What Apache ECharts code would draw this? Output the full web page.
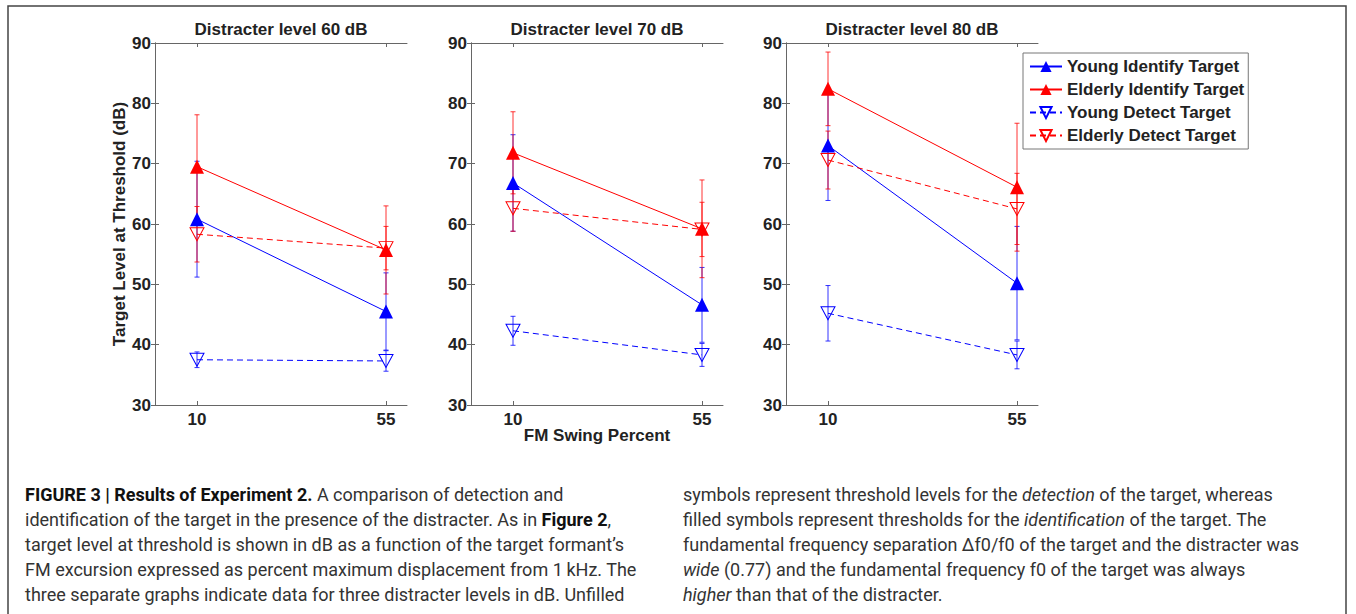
<!DOCTYPE html>
<html>
<head>
<meta charset="utf-8">
<script src="https://cdn.jsdelivr.net/npm/echarts@6/dist/echarts.min.js"></script>
<style>
html,body{margin:0;padding:0;background:#fff;}
#chart{width:1356px;height:614px;}
</style>
</head>
<body>
<div id="chart"></div>
<script>
// ---------- data ----------
const swingPercent = [10, 55];
const panelTitles = ['Distracter level 60 dB', 'Distracter level 70 dB', 'Distracter level 80 dB'];
const seriesNames = ['Young Identify Target', 'Elderly Identify Target', 'Young Detect Target', 'Elderly Detect Target'];
const yTicks = [30, 40, 50, 60, 70, 80, 90];

// values per panel [at 10%, at 55%]
const youngIdentify    = [[60.8, 45.5], [66.8, 46.6], [73.0, 50.2]];
const youngIdentifyErr = [[9.6, 6.4],   [8.0, 6.2],   [9.1, 9.4]];
const elderlyIdentify    = [[69.5, 55.7], [71.8, 59.2], [82.4, 66.1]];
const elderlyIdentifyErr = [[8.6, 7.3],   [6.8, 8.1],   [6.1, 10.6]];
const youngDetect    = [[37.5, 37.3], [42.3, 38.3], [45.2, 38.3]];
const youngDetectErr = [[1.3, 1.7],   [2.4, 1.9],   [4.6, 2.3]];
const elderlyDetect    = [[58.3, 56.0], [62.6, 59.1], [70.6, 62.5]];
const elderlyDetectErr = [[4.6, 3.6],   [3.8, 4.5],   [4.8, 5.9]];

const captionLeft = [
  '{b|FIGURE 3 | Results of Experiment 2.} A comparison of detection and',
  'identification of the target in the presence of the distracter. As in {b|Figure 2},',
  'target level at threshold is shown in dB as a function of the target formant\u2019s',
  'FM excursion expressed as percent maximum displacement from 1\u2009kHz. The',
  'three separate graphs indicate data for three distracter levels in dB. Unfilled'
];
const captionRight = [
  'symbols represent threshold levels for the {i|detection} of the target, whereas',
  'filled symbols represent thresholds for the {i|identification} of the target. The',
  'fundamental frequency separation \u0394f0/f0 of the target and the distracter was',
  '{i|wide} (0.77) and the fundamental frequency f0 of the target was always',
  '{i|higher} than that of the distracter.'
];

// ---------- styling / layout ----------
const FONT = 'Arial, Liberation Sans, Helvetica, sans-serif';
const CAPFONT = 'Roboto, sans-serif';
const BLUE = '#0000ff', RED = '#ff0000';
const gridLefts = [155, 471, 786];
const GRID_W = 252, GRID_TOP = 43, GRID_H = 362;

const seriesDefs = [
  {name: seriesNames[0], vals: youngIdentify, err: youngIdentifyErr, color: BLUE, filled: true},
  {name: seriesNames[1], vals: elderlyIdentify, err: elderlyIdentifyErr, color: RED, filled: true},
  {name: seriesNames[2], vals: youngDetect, err: youngDetectErr, color: BLUE, filled: false},
  {name: seriesNames[3], vals: elderlyDetect, err: elderlyDetectErr, color: RED, filled: false}
];

const grids = [], xAxes = [], yAxes = [], series = [], graphics = [];
const axisLineStyle = {color: '#666', width: 1};

gridLefts.forEach((left, p) => {
  grids.push({left: left, top: GRID_TOP, width: GRID_W, height: GRID_H, containLabel: false});
  xAxes.push({
    type: 'value', gridIndex: p, position: 'bottom', min: 0, max: 60,
    axisLine: {show: true, onZero: false, lineStyle: axisLineStyle},
    axisTick: {show: true, inside: true, length: 4, lineStyle: axisLineStyle, customValues: swingPercent},
    axisLabel: {show: true, margin: 6, fontFamily: FONT, fontWeight: 'bold', fontSize: 17, color: '#222', customValues: swingPercent},
    splitLine: {show: false}
  }, {
    type: 'value', gridIndex: p, position: 'top', min: 0, max: 60,
    axisLine: {show: true, onZero: false, lineStyle: axisLineStyle},
    axisTick: {show: true, inside: true, length: 4, lineStyle: axisLineStyle, customValues: swingPercent},
    axisLabel: {show: false},
    splitLine: {show: false}
  });
  const yl = {
    type: 'value', gridIndex: p, position: 'left', min: 30, max: 90, interval: 10,
    axisLine: {show: true, lineStyle: axisLineStyle},
    axisTick: {show: true, inside: true, length: 4, lineStyle: axisLineStyle, customValues: yTicks},
    axisLabel: {show: true, margin: 4, fontFamily: FONT, fontWeight: 'bold', fontSize: 17, color: '#222', customValues: yTicks},
    splitLine: {show: false}
  };
  if (p === 0) {
    yl.name = 'Target Level at Threshold (dB)';
    yl.nameLocation = 'middle';
    yl.nameGap = 26;
    yl.nameTextStyle = {fontFamily: FONT, fontWeight: 'bold', fontSize: 17, color: '#222'};
  }
  yAxes.push(yl, {
    type: 'value', gridIndex: p, position: 'right', min: 30, max: 90, interval: 10,
    axisLine: {show: true, lineStyle: axisLineStyle},
    axisTick: {show: true, inside: true, length: 4, lineStyle: axisLineStyle, customValues: yTicks},
    axisLabel: {show: false},
    splitLine: {show: false}
  });

  // error bars
  seriesDefs.forEach(def => {
    series.push({
      type: 'custom',
      name: def.name + ' error',
      xAxisIndex: 2 * p, yAxisIndex: 2 * p,
      z: 1, silent: true,
      data: swingPercent.map((x, i) => [x, def.vals[p][i], def.err[p][i]]),
      renderItem: function (params, api) {
        const x = api.value(0), y = api.value(1), e = api.value(2);
        const top = api.coord([x, y + e]);
        const bot = api.coord([x, y - e]);
        const w = 2.5;
        const st = {stroke: def.color, lineWidth: 0.8};
        return {
          type: 'group',
          children: [
            {type: 'line', shape: {x1: top[0], y1: top[1], x2: bot[0], y2: bot[1]}, style: st},
            {type: 'line', shape: {x1: top[0] - w, y1: top[1], x2: top[0] + w, y2: top[1]}, style: st},
            {type: 'line', shape: {x1: bot[0] - w, y1: bot[1], x2: bot[0] + w, y2: bot[1]}, style: st}
          ]
        };
      }
    });
  });
  // lines with markers
  seriesDefs.forEach(def => {
    series.push({
      type: 'line',
      name: def.name,
      xAxisIndex: 2 * p, yAxisIndex: 2 * p,
      z: 3,
      data: swingPercent.map((x, i) => [x, def.vals[p][i]]),
      symbol: 'triangle',
      symbolRotate: def.filled ? 0 : 180,
      symbolSize: def.filled ? 14 : [14, 13],
      showSymbol: true,
      lineStyle: {color: def.color, width: 1, type: def.filled ? 'solid' : [6, 4]},
      itemStyle: def.filled
        ? {color: def.color, borderWidth: 0}
        : {color: 'rgba(255,255,255,0)', borderColor: def.color, borderWidth: 1},
      emphasis: {disabled: true}
    });
  });

  graphics.push({
    type: 'text', x: left + GRID_W / 2, y: 29,
    style: {text: panelTitles[p], fontFamily: FONT, fontWeight: 'bold', fontSize: 17, fill: '#222', align: 'center', verticalAlign: 'middle'}
  });
});

// frame
graphics.push({
  type: 'rect', shape: {x: 8, y: 6, width: 1338, height: 640},
  style: {fill: 'none', stroke: '#444', lineWidth: 1.5}, z: -1
});
// x axis name
graphics.push({
  type: 'text', x: gridLefts[1] + GRID_W / 2, y: 435,
  style: {text: 'FM Swing Percent', fontFamily: FONT, fontWeight: 'bold', fontSize: 17, fill: '#222', align: 'center', verticalAlign: 'middle'}
});
// caption
const capRich = {
  b: {fontFamily: CAPFONT, fontWeight: 'bold', fontSize: 18, fill: '#111', lineHeight: 25},
  i: {fontFamily: CAPFONT, fontStyle: 'italic', fontSize: 18, fill: '#333', lineHeight: 25}
};
graphics.push({
  type: 'text', x: 25, y: 482,
  style: {text: captionLeft.join('\n'), fontFamily: CAPFONT, fontSize: 18, fill: '#333', lineHeight: 25, rich: capRich, align: 'left', verticalAlign: 'top'}
});
graphics.push({
  type: 'text', x: 683, y: 482,
  style: {text: captionRight.join('\n'), fontFamily: CAPFONT, fontSize: 18, fill: '#333', lineHeight: 25, rich: capRich, align: 'left', verticalAlign: 'top'}
});

const option = {
  animation: false,
  backgroundColor: '#fff',
  grid: grids,
  xAxis: xAxes,
  yAxis: yAxes,
  legend: {
    data: seriesNames,
    orient: 'vertical',
    left: 1023, top: 53,
    itemWidth: 32, itemHeight: 14, itemGap: 6,
    padding: [5, 4, 5, 6],
    backgroundColor: '#fff',
    borderColor: '#777', borderWidth: 1, borderRadius: 0,
    selectedMode: false,
    textStyle: {fontFamily: FONT, fontWeight: 'bold', fontSize: 17, color: '#222'}
  },
  series: series,
  graphic: graphics
};

const chart = echarts.init(document.getElementById('chart'), null, {renderer: 'svg'});
chart.setOption(option);
</script>
</body>
</html>
